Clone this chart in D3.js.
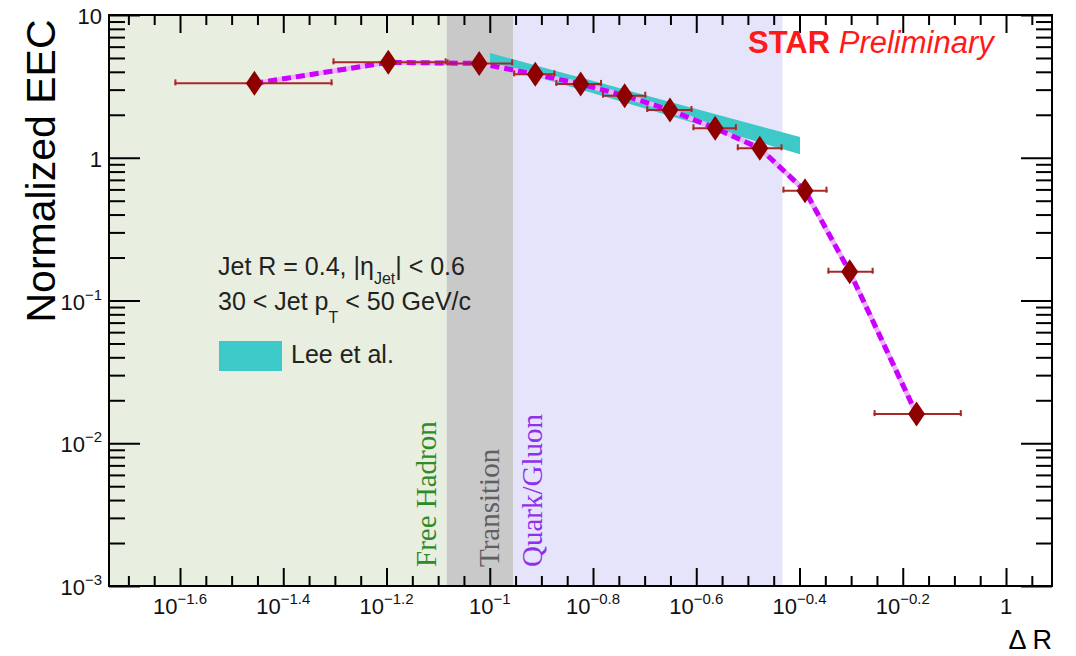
<!DOCTYPE html>
<html>
<head>
<meta charset="utf-8">
<script src="https://cdn.jsdelivr.net/npm/d3@7"></script>
<style>
  body { margin: 0; background: #fff; }
  text { font-family: "Liberation Sans", Arial, Helvetica, sans-serif; }
</style>
</head>
<body>
<svg id="chart" width="1076" height="656"></svg>
<script>
var width = 1076,
    height = 656;

// measured EEC points (bin centre, value) and bin edges
var deltaR   = [0.0350, 0.0636, 0.0954, 0.1225, 0.150, 0.1825, 0.2234, 0.2733, 0.3335, 0.408, 0.498, 0.671];
var eecValue = [3.32, 4.66, 4.58, 3.84, 3.29, 2.72, 2.16, 1.61, 1.165, 0.588, 0.159, 0.0160];
var binEdges = [0.0245, 0.0496, 0.0825, 0.111, 0.134, 0.165, 0.201, 0.247, 0.301, 0.369, 0.451, 0.554, 0.821];

// Lee et al. theory band
var leeDR   = [0.1001, 0.1279, 0.1635, 0.2043, 0.2555, 0.3192, 0.3990];
var leeLow  = [4.61, 3.55, 2.74, 2.16, 1.70, 1.34, 1.06];
var leeHigh = [5.42, 4.26, 3.35, 2.69, 2.16, 1.74, 1.40];

// regions
var regionNames  = ["Free Hadron", "Transition", "Quark/Gluon"];
var regionEdges  = [0.0183, 0.0825, 0.111, 0.369];
var regionFill   = ["#e8efe1", "#c9c9c9", "#e5e4fa"];
var regionText   = ["#2f8a2a", "#606060", "#9030ee"];

// axis ticks
var xTickPow   = [-1.6, -1.4, -1.2, -1, -0.8, -0.6, -0.4, -0.2, 0];
var xTickBase  = ["10", "10", "10", "10", "10", "10", "10", "10", "1"];
var xTickExp   = ["\u22121.6", "\u22121.4", "\u22121.2", "\u22121", "\u22120.8", "\u22120.6", "\u22120.4", "\u22120.2", ""];
var yTickPow   = [-3, -2, -1, 0, 1];
var yTickBase  = ["10", "10", "10", "1", "10"];
var yTickExp   = ["\u22123", "\u22122", "\u22121", "", ""];

var plotL = 109, plotR = 1052, plotT = 15, plotB = 586;

var x = d3.scaleLog().domain([0.0183, 1.2277]).range([plotL, plotR]);
var y = d3.scaleLog().domain([1e-3, 10]).range([plotB, plotT]);

var svg = d3.select('#chart');

// shaded regions
svg.append('g').selectAll('rect')
  .data(regionNames)
  .enter().append('rect')
    .attr('x', (d, i) => x(regionEdges[i]))
    .attr('y', plotT)
    .attr('width', (d, i) => x(regionEdges[i + 1]) - x(regionEdges[i]))
    .attr('height', plotB - plotT)
    .attr('fill', (d, i) => regionFill[i]);

// region labels, vertical serif text
var labelX = [436, 499, 542];
svg.append('g').selectAll('text')
  .data(regionNames)
  .enter().append('text')
    .attr('transform', (d, i) => 'translate(' + labelX[i] + ',567) rotate(-90)')
    .style('font-family', '"Liberation Serif", "Times New Roman", serif')
    .style('font-size', '29px')
    .attr('fill', (d, i) => regionText[i])
    .text(d => d);

// Lee et al. band
var band = d3.area()
  .x((d, i) => x(leeDR[i]))
  .y0((d, i) => y(leeLow[i]))
  .y1((d, i) => y(leeHigh[i]));

svg.append('path')
  .datum(leeDR)
  .attr('d', band)
  .attr('fill', '#3ec9c9');

// dashed magenta line through the points
var pts = deltaR.map((d, i) => [x(d), y(eecValue[i])]);
var line = d3.line();

svg.append('path')
  .attr('d', line(pts))
  .attr('fill', 'none')
  .attr('stroke', '#eab4f6')
  .attr('stroke-width', 5);

svg.append('path')
  .attr('d', line(pts))
  .attr('fill', 'none')
  .attr('stroke', '#cc00ff')
  .attr('stroke-width', 5)
  .attr('stroke-dasharray', '9,5');

// horizontal bin-width bars
var bars = svg.append('g')
  .attr('stroke', '#a82828')
  .attr('stroke-width', 2);

deltaR.forEach(function(d, i) {
  var x0 = x(binEdges[i]), x1 = x(binEdges[i + 1]), yy = y(eecValue[i]);
  bars.append('line').attr('x1', x0).attr('x2', x1).attr('y1', yy).attr('y2', yy);
  bars.append('line').attr('x1', x0 + 1).attr('x2', x0 + 1).attr('y1', yy - 4).attr('y2', yy + 2);
  bars.append('line').attr('x1', x1 - 1).attr('x2', x1 - 1).attr('y1', yy - 4).attr('y2', yy + 2);
});

// diamond markers
svg.append('g').selectAll('path')
  .data(pts)
  .enter().append('path')
    .attr('d', d => 'M' + d[0] + ',' + (d[1] - 12.5) + 'L' + (d[0] + 8.5) + ',' + d[1] +
                    'L' + d[0] + ',' + (d[1] + 12.5) + 'L' + (d[0] - 8.5) + ',' + d[1] + 'Z')
    .attr('fill', '#8e0000');

// ticks on all four sides, pointing inward
var xMinor = d3.range(-35, 2).map(k => k * 0.05)
  .filter(l => Math.round(l * 100) % 20 !== 0)
  .map(l => Math.pow(10, l))
  .filter(v => v >= x.domain()[0] && v <= x.domain()[1]);
var xMajor = xTickPow.map(p => Math.pow(10, p));

var yMinor = [];
[-3, -2, -1, 0].forEach(function(p) {
  d3.range(2, 10).forEach(k => yMinor.push(k * Math.pow(10, p)));
});
var yMajor = yTickPow.map(p => Math.pow(10, p));

function ticks(axis, tr) {
  var g = svg.append('g').attr('transform', tr).call(axis);
  g.select('.domain').remove();
  g.selectAll('line').attr('stroke', '#000').attr('stroke-width', 2);
}

ticks(d3.axisBottom(x).tickValues(xMinor).tickSize(-10).tickFormat(''), 'translate(0,' + plotB + ')');
ticks(d3.axisBottom(x).tickValues(xMajor).tickSize(-18).tickFormat(''), 'translate(0,' + plotB + ')');
ticks(d3.axisTop(x).tickValues(xMinor).tickSize(-10).tickFormat(''), 'translate(0,' + plotT + ')');
ticks(d3.axisTop(x).tickValues(xMajor).tickSize(-18).tickFormat(''), 'translate(0,' + plotT + ')');
ticks(d3.axisLeft(y).tickValues(yMinor).tickSize(-16).tickFormat(''), 'translate(' + plotL + ',0)');
ticks(d3.axisLeft(y).tickValues(yMajor).tickSize(-31).tickFormat(''), 'translate(' + plotL + ',0)');
ticks(d3.axisRight(y).tickValues(yMinor).tickSize(-16).tickFormat(''), 'translate(' + plotR + ',0)');
ticks(d3.axisRight(y).tickValues(yMajor).tickSize(-31).tickFormat(''), 'translate(' + plotR + ',0)');

// frame
svg.append('rect')
  .attr('x', plotL).attr('y', plotT)
  .attr('width', plotR - plotL).attr('height', plotB - plotT)
  .attr('fill', 'none').attr('stroke', '#000').attr('stroke-width', 2);

// x tick labels
var xl = svg.append('g').selectAll('text')
  .data(xMajor)
  .enter().append('text')
    .attr('x', d => x(d))
    .attr('y', 614)
    .attr('text-anchor', 'middle')
    .style('font-size', '22px')
    .attr('fill', '#111');
xl.append('tspan').text((d, i) => xTickBase[i]);
xl.append('tspan').attr('dy', -10).style('font-size', '15px').text((d, i) => xTickExp[i]);

// y tick labels
var yl = svg.append('g').selectAll('text')
  .data(yMajor)
  .enter().append('text')
    .attr('x', 102)
    .attr('y', d => y(d) + 9)
    .attr('text-anchor', 'end')
    .style('font-size', '22px')
    .attr('fill', '#111');
yl.append('tspan').text((d, i) => yTickBase[i]);
yl.append('tspan').attr('dy', -10).style('font-size', '15px').text((d, i) => yTickExp[i]);

// axis titles
svg.append('text')
  .attr('transform', 'translate(55,171) rotate(-90)')
  .attr('text-anchor', 'middle')
  .style('font-size', '41px')
  .attr('fill', '#000')
  .text('Normalized EEC');

svg.append('text')
  .attr('x', plotR)
  .attr('y', 649)
  .attr('text-anchor', 'end')
  .style('font-size', '27px')
  .attr('fill', '#000')
  .text('\u0394 R');

// STAR Preliminary
var star = svg.append('text')
  .attr('x', 748)
  .attr('y', 53)
  .style('font-size', '31px')
  .attr('fill', '#ff1a1a');
star.append('tspan').style('font-weight', 'bold').text('STAR');
star.append('tspan').style('font-style', 'italic').text(' Preliminary');

// legend text
var t1 = svg.append('text').attr('x', 218).attr('y', 275).style('font-size', '25px').attr('fill', '#222');
t1.append('tspan').text('Jet R = 0.4, |\u03b7');
t1.append('tspan').attr('dy', 9).style('font-size', '16px').text('Jet');
t1.append('tspan').attr('dy', -9).text('| < 0.6');

var t2 = svg.append('text').attr('x', 218).attr('y', 310).style('font-size', '25px').attr('fill', '#222');
t2.append('tspan').text('30 < Jet p');
t2.append('tspan').attr('dy', 13).style('font-size', '16px').text('T');
t2.append('tspan').attr('dy', -13).text(' < 50 GeV/c');

svg.append('rect')
  .attr('x', 219).attr('y', 341)
  .attr('width', 63).attr('height', 30)
  .attr('fill', '#3ec9c9');

svg.append('text')
  .attr('x', 291).attr('y', 363)
  .style('font-size', '25px')
  .attr('fill', '#222')
  .text('Lee et al.');
</script>
</body>
</html>
